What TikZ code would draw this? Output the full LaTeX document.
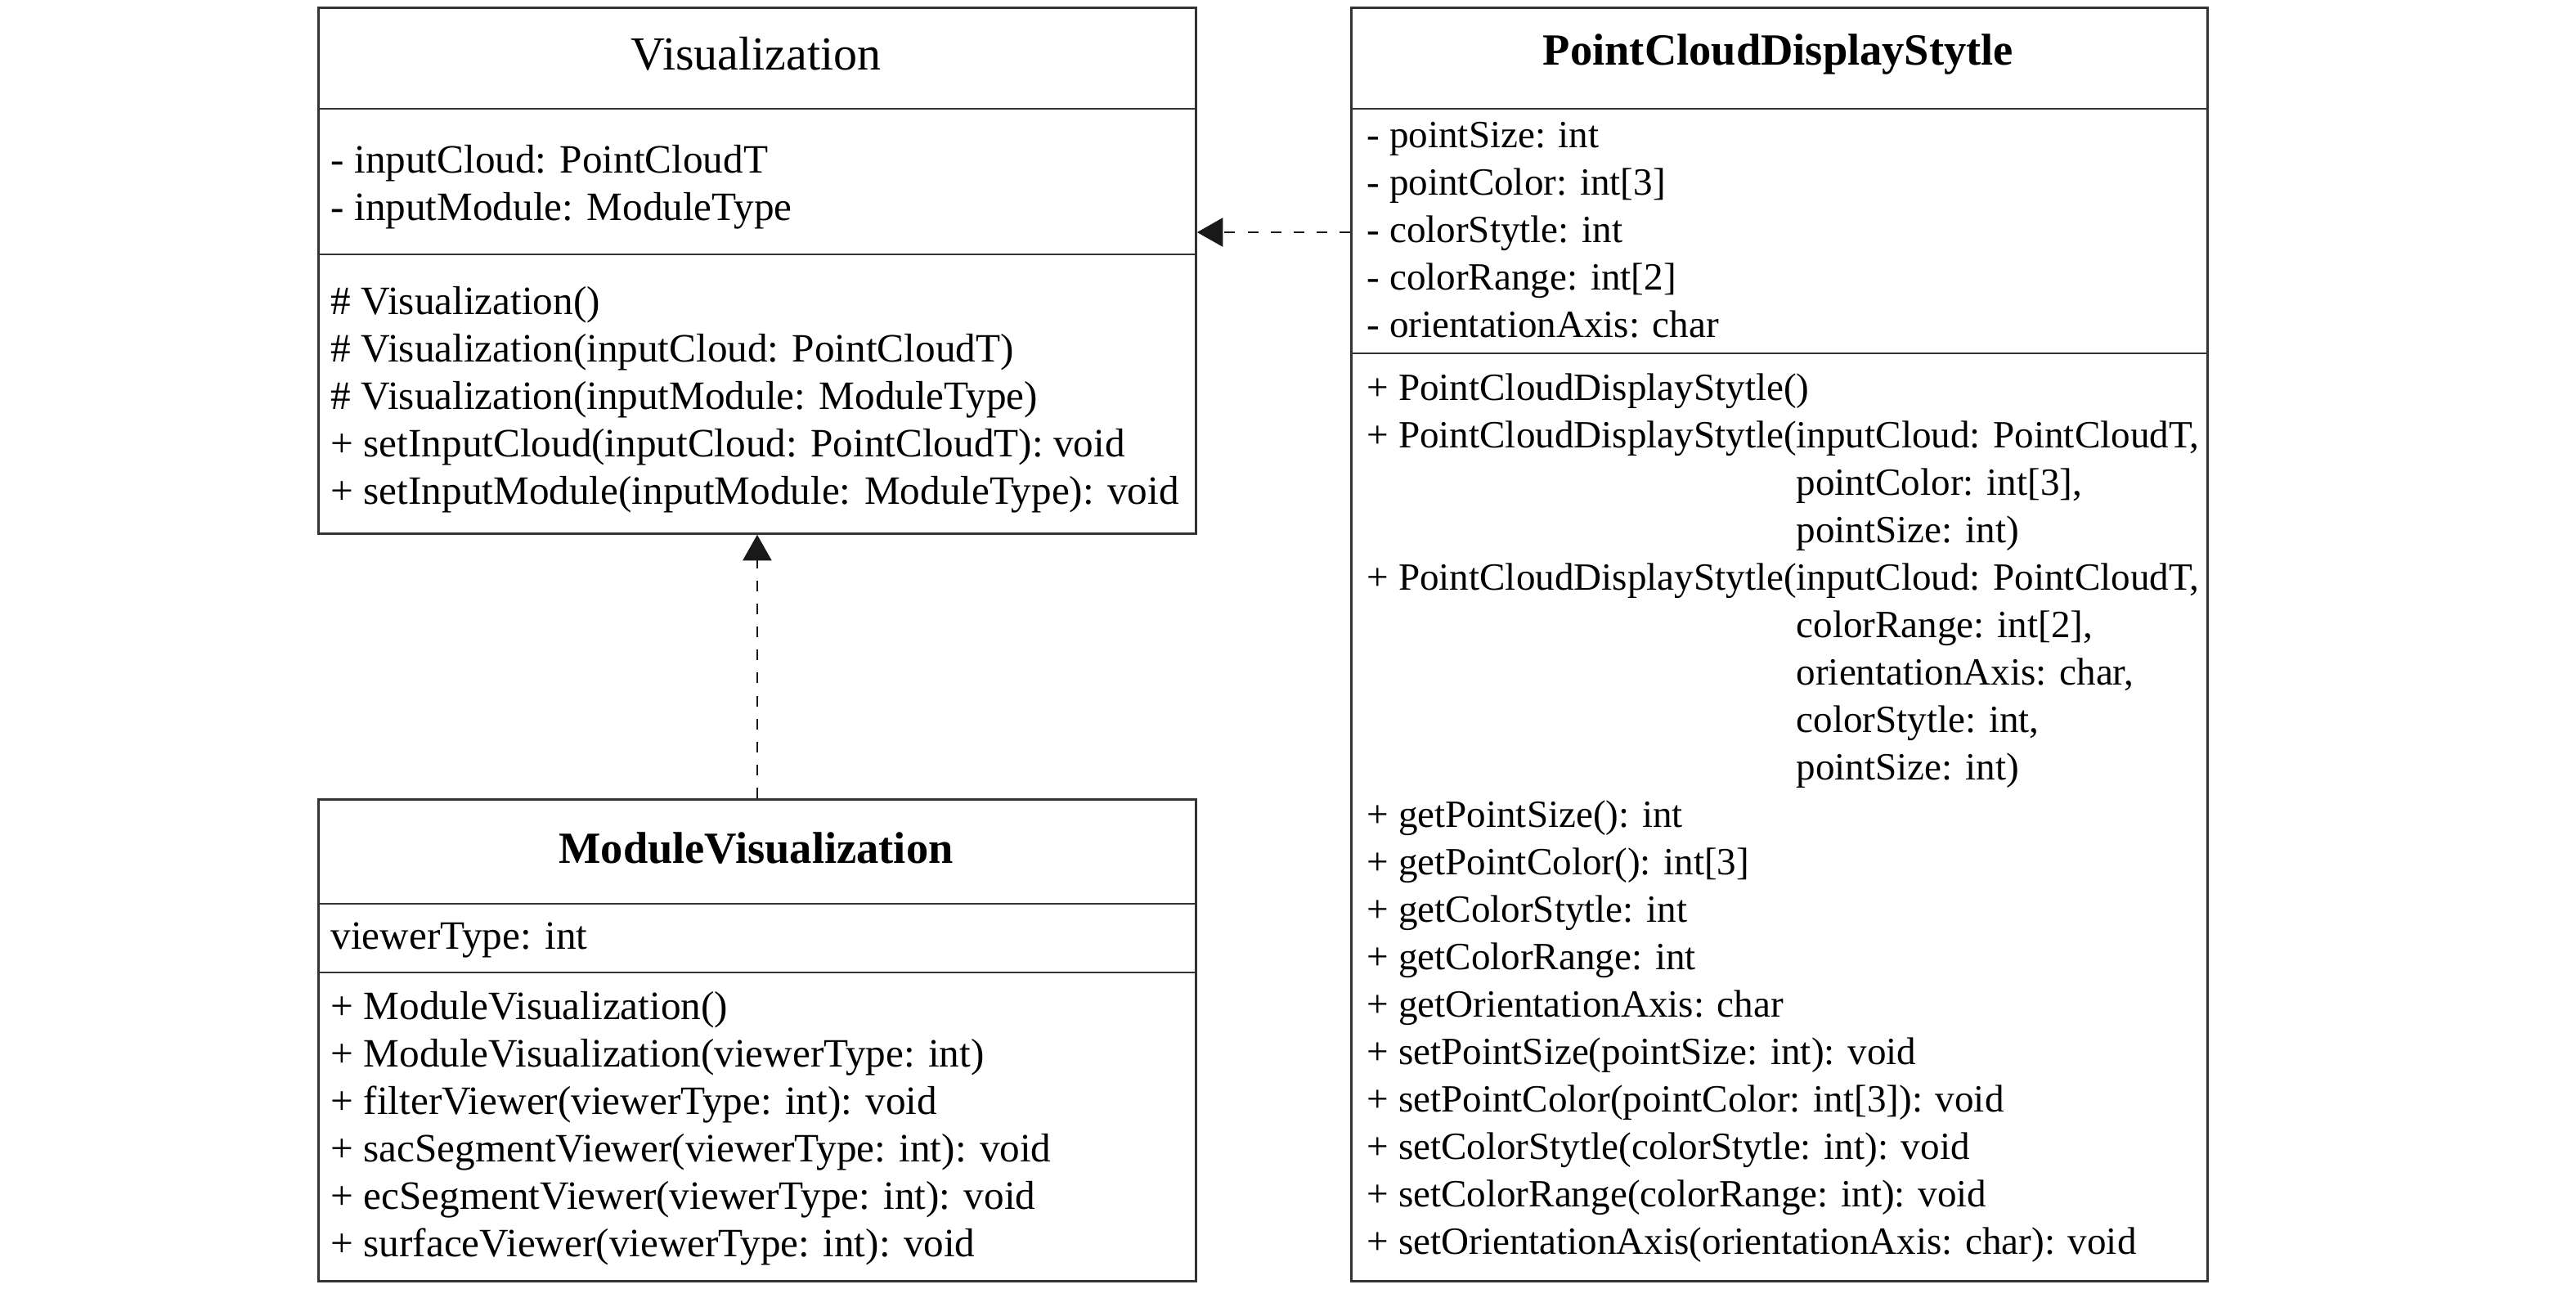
\documentclass[tikz,border=0pt]{standalone}
\usepackage{fontspec}
\setmainfont{Liberation Serif}
\usetikzlibrary{arrows.meta}

\tikzset{
  umlbox/.style={draw=black!80, line width=0.8pt, anchor=north west, inner sep=0pt},
  sepline/.style={draw=black!80, line width=0.8pt},
  members/.style={anchor=north west, align=left, inner sep=0pt, font=\fontsize{13.4}{16.5}\selectfont},
  bigmembers/.style={members, font=\fontsize{14}{16.5}\selectfont},
  classtitle/.style={inner sep=0pt, font=\fontsize{15.5}{18}\selectfont},
  realize/.style={-{Triangle[length=9pt,width=10pt]}, dash pattern=on 3.7pt off 4.3pt, line width=0.8pt, black!90},
}

\begin{document}
\begin{tikzpicture}
\useasboundingbox (0,0) rectangle (31.5,-15.75);

% Visualization
\node[umlbox, minimum width=10.73cm, minimum height=6.43cm] (vis) at (3.88,-0.08) {};
\draw[sepline] (3.88,-1.33) -- (14.61,-1.33);
\draw[sepline] (3.88,-3.11) -- (14.61,-3.11);
\node[classtitle, font=\fontsize{16.5}{19}\selectfont] (visname) at (9.245,-0.66) {Visualization};
\node[bigmembers] (visattr) at (4.04,-1.77) {- inputCloud: PointCloudT\\- inputModule: ModuleType};
\node[bigmembers] (visops) at (4.04,-3.50) {\# Visualization()\\
  \# Visualization(inputCloud: PointCloudT)\\
  \# Visualization(inputModule: ModuleType)\\
  + setInputCloud(inputCloud: PointCloudT): void\\
  + setInputModule(inputModule: ModuleType): void};

% ModuleVisualization
\node[umlbox, minimum width=10.73cm, minimum height=5.89cm] (modvis) at (3.88,-9.76) {};
\draw[sepline] (3.88,-11.05) -- (14.61,-11.05);
\draw[sepline] (3.88,-11.89) -- (14.61,-11.89);
\node[classtitle] (modvisname) at (9.245,-10.37) {\bfseries ModuleVisualization};
\node[bigmembers] (modvisattr) at (4.04,-11.27) {viewerType: int};
\node[bigmembers] (modvisops) at (4.04,-12.12) {+ ModuleVisualization()\\
  + ModuleVisualization(viewerType: int)\\
  + filterViewer(viewerType: int): void\\
  + sacSegmentViewer(viewerType: int): void\\
  + ecSegmentViewer(viewerType: int): void\\
  + surfaceViewer(viewerType: int): void};

% PointCloudDisplayStytle
\node[umlbox, minimum width=10.47cm, minimum height=15.57cm] (pcds) at (16.51,-0.08) {};
\draw[sepline] (16.51,-1.33) -- (26.98,-1.33);
\draw[sepline] (16.51,-4.32) -- (26.98,-4.32);
\node[classtitle] (pcdsname) at (21.745,-0.66) {\bfseries PointCloudDisplayStytle};
\node[members] (pcdsattr) at (16.71,-1.49) {- pointSize: int\\
  - pointColor: int[3]\\
  - colorStytle: int\\
  - colorRange: int[2]\\
  - orientationAxis: char};
\node[members] (pcdsops) at (16.71,-4.56) {+ PointCloudDisplayStytle()\\
  + PointCloudDisplayStytle(inputCloud: PointCloudT,\\
  \phantom{+ PointCloudDisplayStytle(}pointColor: int[3],\\
  \phantom{+ PointCloudDisplayStytle(}pointSize: int)\\
  + PointCloudDisplayStytle(inputCloud: PointCloudT,\\
  \phantom{+ PointCloudDisplayStytle(}colorRange: int[2],\\
  \phantom{+ PointCloudDisplayStytle(}orientationAxis: char,\\
  \phantom{+ PointCloudDisplayStytle(}colorStytle: int,\\
  \phantom{+ PointCloudDisplayStytle(}pointSize: int)\\
  + getPointSize(): int\\
  + getPointColor(): int[3]\\
  + getColorStytle: int\\
  + getColorRange: int\\
  + getOrientationAxis: char\\
  + setPointSize(pointSize: int): void\\
  + setPointColor(pointColor: int[3]): void\\
  + setColorStytle(colorStytle: int): void\\
  + setColorRange(colorRange: int): void\\
  + setOrientationAxis(orientationAxis: char): void};

% relations
\coordinate (dep) at (0,-2.84);
\draw[realize] (pcds.west |- dep) -- (vis.east |- dep);
\draw[realize] (modvis.north) -- (vis.south);
\end{tikzpicture}
\end{document}
